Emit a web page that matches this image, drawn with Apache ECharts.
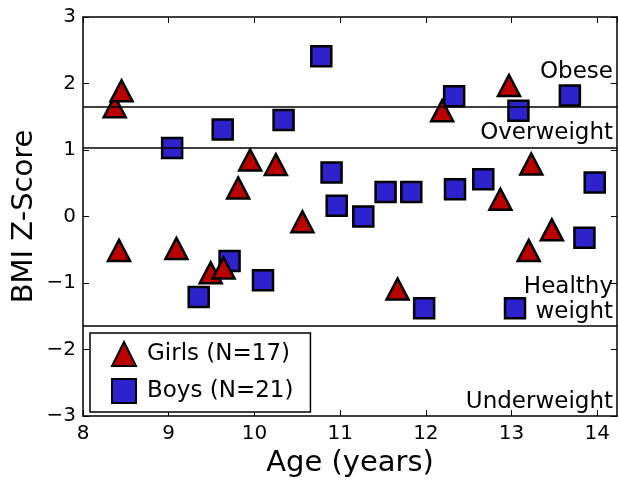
<!DOCTYPE html>
<html>
<head>
<meta charset="utf-8">
<script src="https://cdn.jsdelivr.net/npm/echarts@6/dist/echarts.min.js"></script>
<style>html,body{margin:0;padding:0;background:#fff}#c{width:618px;height:480px}</style>
</head>
<body>
<div id="c"></div>
<script>
const girlsAge = [8.37, 8.45, 8.42, 9.09, 9.49, 9.64, 9.81, 9.95, 10.25, 10.56, 11.67, 12.19, 12.87, 12.97, 13.23, 13.2, 13.47];
const girlsZ   = [1.65, 1.89, -0.51, -0.48, -0.845, -0.775, 0.43, 0.85, 0.78, -0.08, -1.09, 1.59, 0.26, 1.97, 0.79, -0.51, -0.2];
const boysAge = [9.04, 9.35, 9.63, 9.71, 10.1, 10.34, 10.78, 10.9, 10.96, 11.27, 11.53, 11.83, 11.98, 12.33, 12.34, 12.67, 13.08, 13.04, 13.68, 13.85, 13.97];
const boysZ   = [1.03, -1.21, 1.31, -0.67, -0.96, 1.45, 2.41, 0.66, 0.16, 0.0, 0.37, 0.37, -1.38, 1.81, 0.41, 0.56, 1.59, -1.38, 1.82, -0.32, 0.51];
const cutoffs = [1.645, 1.036, -1.645];
const xTicks = [8, 9, 10, 11, 12, 13, 14];
const yTicks = [-3, -2, -1, 0, 1, 2, 3];
const zoneLabels = ['Obese', 'Overweight', 'Healthy\nweight', 'Underweight'];
const legendNames = ['Girls (N=17)', 'Boys (N=21)'];

const FONT = 'DejaVu Sans';
const fmt = v => (v < 0 ? '\u2212' + Math.abs(v) : String(v));

const chart = echarts.init(document.getElementById('c'), null, {renderer: 'canvas'});
const girls = girlsAge.map((a, i) => [a, girlsZ[i]]);
const boys = boysAge.map((a, i) => [a, boysZ[i]]);

const axisCommon = {
  axisLine: {show: true, onZero: false, lineStyle: {color: '#000', width: 1.5}},
  axisTick: {show: true, inside: true, length: 6, lineStyle: {color: '#000', width: 1}},
  splitLine: {show: false}
};

chart.setOption({
  animation: false,
  backgroundColor: '#fff',
  grid: {left: 83, top: 17, right: 1, bottom: 64, containLabel: false, outerBoundsMode: 'none'},
  xAxis: [
    Object.assign({
      type: 'value', min: 8, max: 14.23, interval: 1, position: 'bottom',
      name: 'Age (years)', nameLocation: 'middle', nameGap: 29,
      nameTextStyle: {fontFamily: FONT, fontSize: 29, color: '#000'},
      axisLabel: {fontFamily: FONT, fontSize: 20, color: '#000', margin: 8, showMaxLabel: false,
        formatter: v => (xTicks.indexOf(v) >= 0 ? fmt(v) : '')}
    }, axisCommon),
    Object.assign({
      type: 'value', min: 8, max: 14.23, interval: 1, position: 'top',
      axisLabel: {show: false}
    }, axisCommon)
  ],
  yAxis: [
    Object.assign({
      type: 'value', min: -3, max: 3, interval: 1, position: 'left',
      name: 'BMI Z-Score', nameLocation: 'middle', nameGap: 44, nameMoveOverlap: false,
      nameTextStyle: {fontFamily: FONT, fontSize: 29, color: '#000'},
      axisLabel: {fontFamily: FONT, fontSize: 20, color: '#000', margin: 7,
        formatter: v => (yTicks.indexOf(v) >= 0 ? fmt(v) : '')}
    }, axisCommon),
    Object.assign({
      type: 'value', min: -3, max: 3, interval: 1, position: 'right',
      axisLabel: {show: false}
    }, axisCommon)
  ],
  legend: {
    orient: 'vertical', left: 90, top: 333,
    data: legendNames,
    itemWidth: 24, itemHeight: 24, itemGap: 11,
    padding: [8, 17, 8, 21],
    borderColor: '#000', borderWidth: 1.5, borderRadius: 0,
    backgroundColor: '#fff',
    textStyle: {fontFamily: FONT, fontSize: 23, color: '#000', padding: [0, 0, 0, 6]}
  },
  series: [
    {
      name: 'cutoffs', type: 'line', data: [], silent: true,
      markLine: {
        silent: true, symbol: 'none', label: {show: false},
        lineStyle: {color: '#000', width: 1.5, type: 'solid'},
        data: cutoffs.map(v => ({yAxis: v}))
      },
      z: 1
    },
    {
      name: legendNames[1], type: 'scatter', data: boys,
      symbol: 'rect', symbolSize: 20,
      itemStyle: {color: '#2e22cc', borderColor: '#000', borderWidth: 2.5, opacity: 1},
      z: 3
    },
    {
      name: legendNames[0], type: 'scatter', data: girls,
      symbol: 'triangle', symbolSize: [22, 21],
      itemStyle: {color: '#bb0000', borderColor: '#000', borderWidth: 2.5, opacity: 1},
      z: 4
    }
  ],
  graphic: [
    {type: 'text', right: 5, top: 61, style: {text: zoneLabels[0], font: '23px "DejaVu Sans"', fill: '#000', textAlign: 'right'}},
    {type: 'text', right: 5, top: 122, style: {text: zoneLabels[1], font: '23px "DejaVu Sans"', fill: '#000', textAlign: 'right'}},
    {type: 'text', right: 5, top: 275, style: {text: zoneLabels[2], font: '23px "DejaVu Sans"', fill: '#000', textAlign: 'right', lineHeight: 25}},
    {type: 'text', right: 5, top: 391, style: {text: zoneLabels[3], font: '23px "DejaVu Sans"', fill: '#000', textAlign: 'right'}}
  ]
});
</script>
</body>
</html>
